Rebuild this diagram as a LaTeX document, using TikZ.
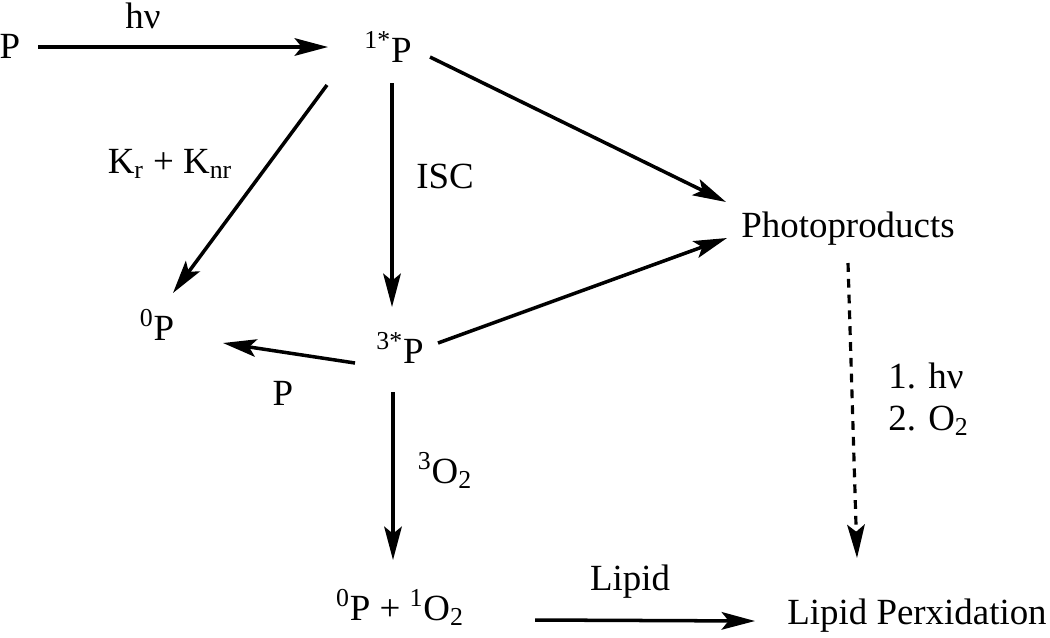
\documentclass[tikz,border=0pt]{standalone}
\usepackage{fontspec}
\setmainfont{Liberation Serif}
\newfontfamily\chemfont{Liberation Serif}
\usetikzlibrary{arrows.meta}

\tikzset{
  species/.style={inner sep=0pt, anchor=base},
  cond/.style={inner sep=0pt, anchor=base},
  rxn/.style={-{Stealth[length=19pt, width=10pt, inset=4pt]}, line width=2pt},
}

\begin{document}
\begin{tikzpicture}[x=0.02cm, y=-0.02cm, font=\chemfont\fontsize{21}{25}\selectfont]
  \useasboundingbox (0,0) rectangle (1050,637);

  % Species
  \node[species] (p)     at (10,58)   {P};
  \node[species] (s1)    at (388,62)  {\textsuperscript{1*}P};
  \node[species] (p0)    at (157,340) {\textsuperscript{0}P};
  \node[species] (s3)    at (400,363) {\textsuperscript{3*}P};
  \node[species] (photo) at (848,237) {Photoproducts};
  \node[species] (prod)  at (400,620) {\textsuperscript{0}P + \textsuperscript{1}O\textsubscript{2}};
  \node[species] (perox) at (917,624) {Lipid Perxidation};

  % Conditions on the arrows
  \node[cond] (hv)    at (143,28)  {hν};
  \node[cond] (krknr) at (170,173) {K\textsubscript{r} + K\textsubscript{nr}};
  \node[cond] (isc)   at (445,188) {ISC};
  \node[cond] (pq)    at (283,405) {P};
  \node[cond] (otrip) at (445,483) {\textsuperscript{3}O\textsubscript{2}};
  \node[cond, anchor=base west] (step1) at (888,388) {1. hν};
  \node[cond, anchor=base west] (step2) at (888,430) {2. O\textsubscript{2}};
  \node[cond] (lipid) at (630,590) {Lipid};

  % Reactions
  \draw[rxn] ([shift={(28,-11)}]p.base) -- ([shift={(-60,-15)}]s1.base);
  \draw[rxn] ([shift={(-61,23)}]s1.base) -- ([shift={(16,-47)}]p0.base);
  \draw[rxn] ([shift={(4,21)}]s1.base) -- ([shift={(-8,-56)}]s3.base);
  \draw[rxn] ([shift={(42,-5)}]s1.base) -- ([shift={(-122,-35)}]photo.base);
  \draw[rxn] ([shift={(-45,0)}]s3.base) -- ([shift={(66,3)}]p0.base);
  \draw[rxn] ([shift={(38,-20)}]s3.base) -- ([shift={(-121,1)}]photo.base);
  \draw[rxn] ([shift={(-7,29)}]s3.base) -- ([shift={(-7,-60)}]prod.base);
  \draw[rxn, line width=1.8pt, dash pattern=on 5pt off 4pt]
    ([shift={(0,26)}]photo.base) -- ([shift={(-60,-66)}]perox.base);
  \draw[rxn] ([shift={(135,0)}]prod.base) -- ([shift={(-162,-3)}]perox.base);
\end{tikzpicture}
\end{document}
